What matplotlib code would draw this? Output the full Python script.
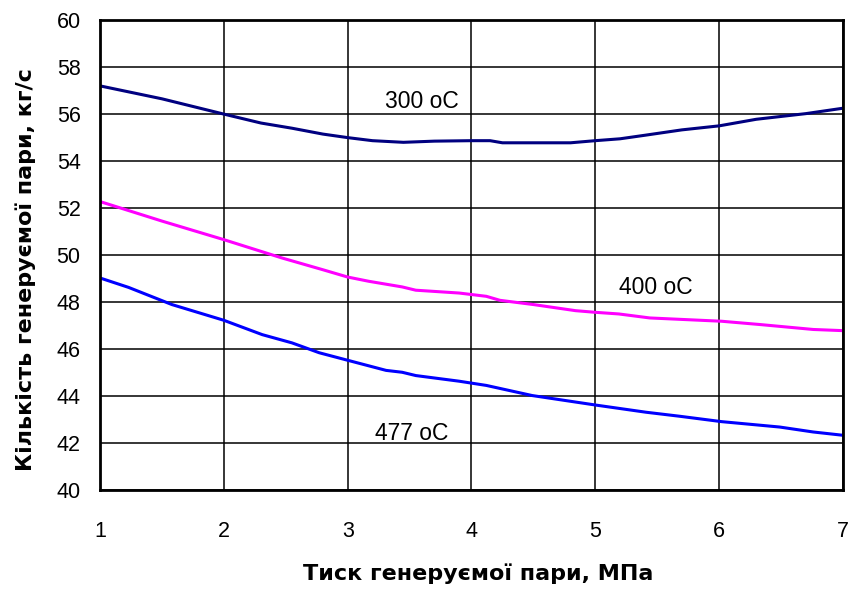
import matplotlib.pyplot as plt

# тиск пари, МПа та витрата пари, кг/с для трьох температур
x_300 = [1.0, 1.5, 2.0, 2.3, 2.55, 2.8, 3.0, 3.2, 3.45, 3.7, 4.0, 4.15, 4.25, 4.5,
         4.8, 5.0, 5.2, 5.4, 5.7, 6.0, 6.3, 6.7, 7.0]
g_300 = [57.2, 56.65, 56.0, 55.62, 55.4, 55.15, 55.0, 54.87, 54.8, 54.85, 54.87,
         54.87, 54.78, 54.78, 54.78, 54.87, 54.95, 55.1, 55.33, 55.5, 55.78, 56.02, 56.25]

x_400 = [1.0, 1.5, 2.0, 2.47, 2.8, 3.0, 3.17, 3.44, 3.55, 3.9, 4.12, 4.23, 4.5,
         4.84, 5.0, 5.19, 5.44, 6.02, 6.33, 6.76, 7.0]
g_400 = [52.28, 51.45, 50.66, 49.88, 49.38, 49.07, 48.89, 48.65, 48.51, 48.39, 48.25,
         48.08, 47.9, 47.64, 47.57, 47.5, 47.33, 47.19, 47.05, 46.84, 46.79]

x_477 = [1.0, 1.23, 1.58, 2.0, 2.31, 2.55, 2.77, 3.0, 3.31, 3.44, 3.55, 3.9, 4.12,
         4.49, 5.01, 5.41, 5.68, 6.02, 6.49, 6.76, 7.0]
g_477 = [49.03, 48.63, 47.9, 47.23, 46.62, 46.27, 45.85, 45.53, 45.1, 45.02, 44.88,
         44.64, 44.46, 44.03, 43.62, 43.32, 43.15, 42.92, 42.69, 42.48, 42.34]

x_ticks = [1, 2, 3, 4, 5, 6, 7]
y_ticks = [40, 42, 44, 46, 48, 50, 52, 54, 56, 58, 60]

plt.rcParams['font.family'] = ['Liberation Sans', 'DejaVu Sans']

fig = plt.figure(figsize=(8.48, 5.9), dpi=100)
ax = fig.add_axes([0.118, 0.169, 0.876, 0.797])

ax.plot(x_300, g_300, color='#000080', linewidth=2.2)
ax.plot(x_400, g_400, color='#FF00FF', linewidth=2.2)
ax.plot(x_477, g_477, color='#0000FF', linewidth=2.2)

# підписи кривих
ax.text(3.6, 56.55, '300 oC', fontsize=16.5, ha='center', va='center')
ax.text(5.49, 48.62, '400 oC', fontsize=16.5, ha='center', va='center')
ax.text(3.52, 42.42, '477 oC', fontsize=16.5, ha='center', va='center')

ax.set_xlim(1, 7)
ax.set_ylim(40, 60)
ax.set_xticks(x_ticks)
ax.set_yticks(y_ticks)
ax.grid(True, color='black', linewidth=1.1)
ax.tick_params(length=0, labelsize=15.5)
ax.tick_params(axis='x', pad=22)
ax.tick_params(axis='y', pad=14)
for s in ax.spines.values():
    s.set_linewidth(2.0)

ax.set_xlabel('Тиск генеруємої пари, МПа', fontsize=16, fontweight='bold',
              fontfamily='DejaVu Sans', labelpad=17)
ax.set_ylabel('Кількість генеруємої пари, кг/с', fontsize=16, fontweight='bold',
              fontfamily='DejaVu Sans')
ax.yaxis.set_label_coords(-0.086, 0.47)
ax.xaxis.set_label_coords(0.509, -0.155)

fig.savefig('out.png', dpi=100)
